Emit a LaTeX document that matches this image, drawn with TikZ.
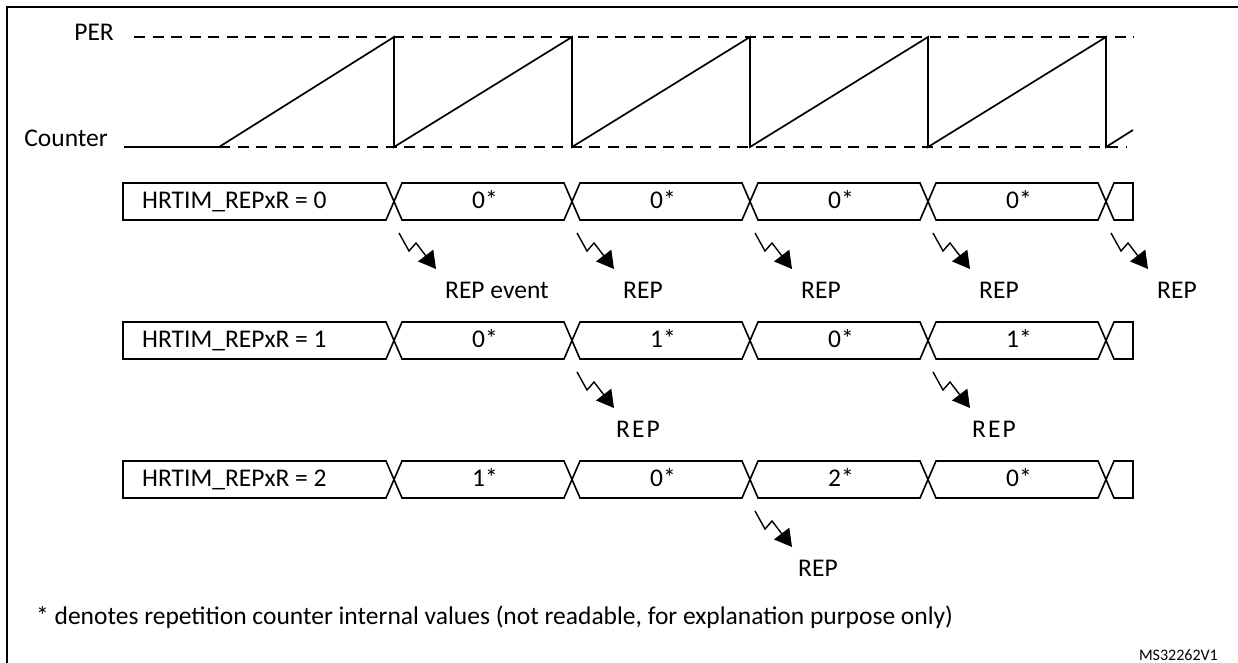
\documentclass[tikz,border=0pt]{standalone}
\usepackage{fontspec}
\setmainfont{Carlito}
\usetikzlibrary{arrows.meta}
\begin{document}
\begin{tikzpicture}[x=1pt,y=-1pt,
  lbl/.style={font=\fontsize{25.5}{30}\selectfont, inner sep=0pt},
  sig/.style={line width=1.7pt, line join=miter},
  dsh/.style={line width=2.6pt, dash pattern=on 11pt off 7.5pt},
  bus/.style={line width=1.6pt, line join=miter},
  bolt/.style={line width=1.4pt, line join=miter, -{Triangle[length=17pt,width=19pt]}},
]
\useasboundingbox (0,0) rectangle (1238,663);
% frame
\draw[line width=2.2pt] (1238,7) -- (7,7) -- (7,663);

% counter waveform
\node[lbl, anchor=base east] (per) at (114,41) {PER};
\node[lbl, anchor=base east] (cnt) at (108,147) {Counter};
\coordinate (perL) at (134,37); \coordinate (perR) at (1134,37);
\coordinate (botL) at (219,147); \coordinate (botR) at (1126,147);
\draw[dsh] (perL) -- (perR);
\draw[dsh] (botL) -- (botR);
\draw[sig] (124,147) -- (botL) -- (394,37) -- (394,147) -- (572,37) -- (572,147)
  -- (750,37) -- (750,147) -- (928,37) -- (928,147) -- (1106,37) -- (1106,147) -- (1133,130);

% bus rows: #1 row id, #2 top y, #3 label text, #4..#7 values
\newcommand{\busrow}[7]{%
  \pgfmathsetmacro{\tt}{#2}
  \pgfmathsetmacro{\bb}{#2+37}
  \pgfmathsetmacro{\mm}{#2+18.5}
  \draw[bus] (123,\tt) -- (386,\tt) -- (394,\mm) -- (386,\bb) -- (123,\bb) -- cycle;
  \node[lbl, anchor=base west] (#1lab) at (142,#2+25) {#3};
  \foreach \i/\v in {0/#4,1/#5,2/#6,3/#7}{
    \pgfmathsetmacro{\ca}{394+178*\i}
    \pgfmathsetmacro{\cb}{394+178*(\i+1)}
    \draw[bus] (\ca,\mm) -- (\ca+8,\tt) -- (\cb-8,\tt) -- (\cb,\mm) -- (\cb-8,\bb) -- (\ca+8,\bb) -- cycle;
    \node[lbl, anchor=base] (#1v\i) at ({(\ca+\cb)/2+2},#2+25) {\v};
  }
  \draw[bus] (1106,\mm) -- (1114,\tt) -- (1133,\tt) -- (1133,\bb) -- (1114,\bb) -- cycle;
}
% lightning arrow: #1 name, #2 crossing x, #3 bottom y, #4 label x offset, #5 label
\newcommand{\boltarrow}[5]{%
  \coordinate (#1s) at (#2+5,#3+13);
  \coordinate (#1a) at (#2+15,#3+31);
  \coordinate (#1b) at (#2+22,#3+23);
  \coordinate (#1t) at (#2+42,#3+49);
  \draw[bolt] (#1s) -- (#1a) -- (#1b) -- (#1t);
  \node[lbl, anchor=base west] (#1l) at (#2+#4,#3+78) {#5};
}

\busrow{ra}{183}{HRTIM\_REPxR = 0}{0*}{0*}{0*}{0*}
\boltarrow{aa}{394}{220}{51}{REP event}
\boltarrow{ab}{572}{220}{51}{REP}
\boltarrow{ac}{750}{220}{51}{REP}
\boltarrow{ad}{928}{220}{51}{REP}
\boltarrow{ae}{1106}{220}{51}{REP}

\busrow{rb}{322}{HRTIM\_REPxR = 1}{0*}{1*}{0*}{1*}
\boltarrow{ba}{572}{359}{44}{\addfontfeature{LetterSpace=8}REP}
\boltarrow{bb}{928}{359}{44}{\addfontfeature{LetterSpace=8}REP}

\busrow{rc}{461}{HRTIM\_REPxR = 2}{1*}{0*}{2*}{0*}
\boltarrow{ca}{750}{498}{48}{REP}

\node[lbl, anchor=base west] (note) at (36,624) {* denotes repetition counter internal values (not readable, for explanation purpose only)};
\node[font=\fontsize{16}{18}\selectfont, inner sep=0pt, anchor=base east] (ms) at (1218,660) {MS32262V1};
\end{tikzpicture}
\end{document}
